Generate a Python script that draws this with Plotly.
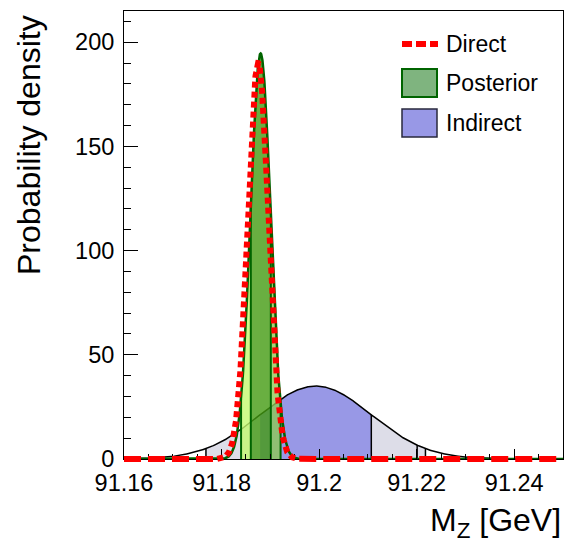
import numpy as np
import plotly.graph_objects as go

# M_Z probability densities (GeV): mean and width of each Gaussian
direct_mean, direct_sigma = 91.1875, 0.0021
posterior_mean, posterior_sigma = 91.1880, 0.00205
indirect_mean, indirect_sigma = 91.1993, 0.0114

# interval edges (GeV)
posterior_95 = [91.1840, 91.1921]
posterior_68 = [91.1860, 91.1901]
indirect_68 = [91.1879, 91.2107]
indirect_95 = [91.1768, 91.2218]
indirect_edges = [91.1768, 91.2107, 91.2201, 91.2218]

x_range = [91.16, 91.25]
y_range = [0, 215]
x_ticks = [91.16, 91.18, 91.20, 91.22, 91.24]
x_tick_labels = ["91.16", "91.18", "91.2", "91.22", "91.24"]
y_ticks = [0, 50, 100, 150, 200]
y_tick_labels = ["0", "50", "100", "150", "200"]

legend_labels = ["Direct", "Posterior", "Indirect"]

FONT = "Liberation Sans, Arial, Helvetica, sans-serif"
W, H = 565, 543
L, R, T, B = 124, 2, 11, 78
PW, PH = W - L - R, H - T - B
EXTRA = 6  # pixels below the x axis where the thick direct line may spill


def px(x):
    return (x - L) / PW


def py(y):
    return (H - B - y) / PH


def gauss(x, mu, sigma):
    return np.exp(-0.5 * ((x - mu) / sigma) ** 2) / (sigma * np.sqrt(2 * np.pi))


grid = np.linspace(x_range[0], x_range[1], 2401)


def band(lo, hi, mu, sigma, n=300):
    xs = np.linspace(lo, hi, n)
    return xs, gauss(xs, mu, sigma)


fig = go.Figure()

# indirect: outer band, inner band, outline, edges
xs, ys = band(indirect_95[0], indirect_95[1], indirect_mean, indirect_sigma)
fig.add_trace(go.Scatter(x=xs, y=ys, mode="lines", line=dict(width=0),
                         fill="tozeroy", fillcolor="rgb(221,221,232)", showlegend=False))
xs, ys = band(indirect_68[0], indirect_68[1], indirect_mean, indirect_sigma)
fig.add_trace(go.Scatter(x=xs, y=ys, mode="lines", line=dict(width=0),
                         fill="tozeroy", fillcolor="rgb(152,152,230)", showlegend=False))
fig.add_trace(go.Scatter(x=grid, y=gauss(grid, indirect_mean, indirect_sigma), mode="lines",
                         line=dict(color="black", width=1.5), showlegend=False))
for e in indirect_edges:
    fig.add_trace(go.Scatter(x=[e, e], y=[0, gauss(e, indirect_mean, indirect_sigma)],
                             mode="lines", line=dict(color="black", width=1.5), showlegend=False))

# posterior: translucent bands on top of the indirect curve
post_bands = [
    (posterior_95[0], posterior_68[0], "rgba(196,249,111,0.8)"),
    (posterior_68[0], posterior_68[1], "rgba(68,155,18,0.8)"),
    (posterior_68[1], posterior_95[1], "rgba(142,201,86,0.8)"),
]
for lo, hi, col in post_bands:
    xs, ys = band(lo, hi, posterior_mean, posterior_sigma)
    fig.add_trace(go.Scatter(x=xs, y=ys, mode="lines", line=dict(width=0),
                             fill="tozeroy", fillcolor=col, showlegend=False))
for e in posterior_95 + posterior_68:
    fig.add_trace(go.Scatter(x=[e, e], y=[0, gauss(e, posterior_mean, posterior_sigma)],
                             mode="lines", line=dict(color="rgb(0,100,0)", width=2),
                             showlegend=False))
fig.add_trace(go.Scatter(x=grid, y=gauss(grid, posterior_mean, posterior_sigma), mode="lines",
                         line=dict(color="rgb(0,100,0)", width=2.5), showlegend=False))

# direct: dotted near the peak, long dashes in the tails (own subplot so it is not clipped at y=0)
core = np.abs(grid - direct_mean) <= 4 * direct_sigma
left = grid <= direct_mean - 4 * direct_sigma
right = grid >= direct_mean + 4 * direct_sigma
yd = gauss(grid, direct_mean, direct_sigma)
fig.add_trace(go.Scatter(x=grid[core], y=yd[core], mode="lines", xaxis="x2", yaxis="y2",
                         line=dict(color="rgb(255,0,0)", width=6, dash="6px,4px"),
                         showlegend=False))
for m in (left, right):
    fig.add_trace(go.Scatter(x=grid[m], y=yd[m], mode="lines", xaxis="x2", yaxis="y2",
                             line=dict(color="rgb(255,0,0)", width=6, dash="17px,7px"),
                             showlegend=False))

y_per_px = (y_range[1] - y_range[0]) / (PH - EXTRA)

axis_common = dict(showline=True, linecolor="black", linewidth=1, mirror=True,
                   showgrid=False, zeroline=False, ticks="inside", tickcolor="black",
                   tickwidth=1, tickfont=dict(family=FONT, size=23.5, color="black"))

fig.update_layout(
    width=W, height=H,
    margin=dict(l=L, r=R, t=T, b=B),
    paper_bgcolor="white", plot_bgcolor="rgba(0,0,0,0)",
    showlegend=False,
    xaxis=dict(range=x_range, tickvals=x_ticks, ticktext=x_tick_labels, ticklen=10,
               ticklabelstandoff=3,
               minor=dict(dtick=0.005, tick0=91.16, ticks="inside", ticklen=5,
                          tickcolor="black", tickwidth=1),
               anchor="y", **axis_common),
    yaxis=dict(range=y_range, domain=[EXTRA / PH, 1], tickvals=y_ticks, ticktext=y_tick_labels,
               ticklen=14, ticklabelstandoff=4,
               minor=dict(dtick=10, ticks="inside", ticklen=7, tickcolor="black", tickwidth=1),
               anchor="x", **axis_common),
    xaxis2=dict(range=x_range, domain=[0, 1], anchor="y2", visible=False),
    yaxis2=dict(range=[y_range[0] - EXTRA * y_per_px, y_range[1]], domain=[0, 1],
                anchor="x2", visible=False),
)

# axis titles
fig.add_annotation(text="M<sub>Z</sub> [GeV]", xref="paper", yref="paper",
                   x=1.0, y=py(522), xanchor="right", yanchor="middle", showarrow=False,
                   font=dict(family=FONT, size=32, color="black"))
fig.add_annotation(text="Probability density", xref="paper", yref="paper",
                   x=px(29), y=py(13), xanchor="center", yanchor="top", textangle=-90,
                   showarrow=False, font=dict(family=FONT, size=32, color="black"))

# legend
fig.add_shape(type="line", xref="paper", yref="paper", x0=px(402), x1=px(438),
              y0=py(44), y1=py(44), line=dict(color="rgb(255,0,0)", width=6, dash="10px,4px"))
fig.add_shape(type="rect", xref="paper", yref="paper", x0=px(402), x1=px(437),
              y0=py(97), y1=py(69), fillcolor="rgb(127,180,127)",
              line=dict(color="rgb(0,100,0)", width=2))
fig.add_shape(type="rect", xref="paper", yref="paper", x0=px(402), x1=px(437),
              y0=py(137), y1=py(109), fillcolor="rgb(152,152,230)",
              line=dict(color="rgb(40,40,60)", width=1.5))
for label, yc in zip(legend_labels, [44, 83, 123]):
    fig.add_annotation(text=label, xref="paper", yref="paper", x=px(444), y=py(yc),
                       xanchor="left", yanchor="middle", showarrow=False,
                       font=dict(family=FONT, size=23, color="black"))

fig.write_html("out.html")
